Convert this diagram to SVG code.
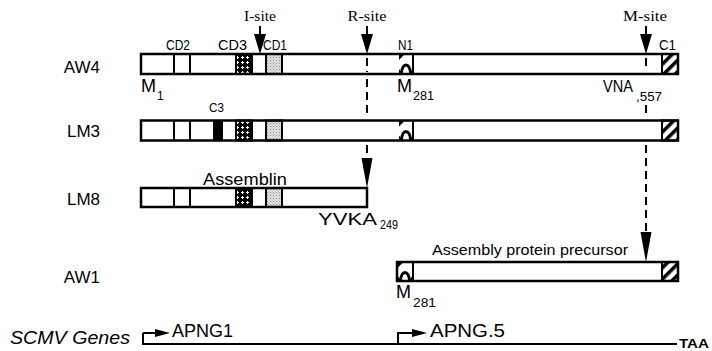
<svg xmlns="http://www.w3.org/2000/svg" width="712" height="351" viewBox="0 0 712 351">
<style>
.sans{font-family:"Liberation Sans",Arial,sans-serif;fill:#000}
.serif{font-family:"Liberation Serif","Times New Roman",serif;fill:#000}
.bar{fill:none;stroke:#000;stroke-width:2.5}
.div{stroke:#000;stroke-width:2;fill:none}
.box{stroke:#000;stroke-width:2}
.dash{stroke:#000;stroke-width:2;stroke-dasharray:8 5;fill:none}
.ln{stroke:#000;stroke-width:2;fill:none}
</style>
<defs>
<pattern id="chk" width="5" height="5" patternUnits="userSpaceOnUse">
<rect width="5" height="5" fill="#000"/>
<rect x="1" y="2" width="3" height="1" fill="#fff"/>
<rect x="2" y="1" width="1" height="3" fill="#fff"/>
</pattern>
<pattern id="stip" width="3" height="3" patternUnits="userSpaceOnUse">
<rect width="3" height="3" fill="#e2e2e2"/>
<rect x="0" y="0" width="1" height="1" fill="#888"/>
<rect x="1.5" y="1.5" width="1" height="1" fill="#aaa"/>
</pattern>
<pattern id="hatch" width="8" height="8" patternUnits="userSpaceOnUse" patternTransform="rotate(45)">
<rect width="8" height="8" fill="#fff"/>
<rect width="3.5" height="8" fill="#000"/>
</pattern>
<g id="nshape">
<rect x="0" y="0" width="14" height="20" fill="#fff"/>
<path d="M0 0 H6 L0 6 Z" fill="#000"/>
<path d="M2.5 20 C2.5 8 11.5 8 11.5 20" fill="none" stroke="#000" stroke-width="2.8"/>
<path d="M14 20 H10 L14 15 Z" fill="#000"/>
<path d="M0 20 H4 L0 15 Z" fill="#000"/>
</g>
</defs>

<g id="row-labels">
<text class="sans" x="100" y="73" font-size="17" text-anchor="end">AW4</text>
<text class="sans" x="100" y="137" font-size="17" text-anchor="end">LM3</text>
<text class="sans" x="100" y="205" font-size="17" text-anchor="end">LM8</text>
<text class="sans" x="100" y="283" font-size="17" text-anchor="end">AW1</text>
</g>

<g id="AW4">
<rect x="141" y="54" width="537" height="20" fill="#fff"/>
<line class="div" x1="174" y1="54" x2="174" y2="74"/>
<line class="div" x1="190" y1="54" x2="190" y2="74"/>
<rect class="box" x="236" y="54" width="16" height="20" fill="url(#chk)"/>
<rect class="box" x="266" y="54" width="16" height="20" fill="url(#stip)"/>
<use href="#nshape" x="399" y="54"/>
<line class="div" x1="413" y1="54" x2="413" y2="74"/>
<rect class="box" x="662" y="54" width="16" height="20" fill="url(#hatch)"/>
<rect class="bar" x="141" y="54" width="537" height="20"/>
<text class="sans" x="166" y="50" font-size="14" textLength="24" lengthAdjust="spacingAndGlyphs">CD2</text>
<text class="sans" x="218" y="50" font-size="14" textLength="29" lengthAdjust="spacingAndGlyphs">CD3</text>
<text class="sans" x="263" y="50" font-size="14" textLength="24" lengthAdjust="spacingAndGlyphs">CD1</text>
<text class="sans" x="398" y="50" font-size="14" textLength="15" lengthAdjust="spacingAndGlyphs">N1</text>
<text class="sans" x="659" y="50" font-size="14" textLength="17" lengthAdjust="spacingAndGlyphs">C1</text>
<text class="sans" x="141" y="92" font-size="18" textLength="15" lengthAdjust="spacingAndGlyphs">M</text>
<text class="sans" x="157" y="100" font-size="12">1</text>
<text class="sans" x="397" y="92" font-size="18" textLength="15" lengthAdjust="spacingAndGlyphs">M</text>
<text class="sans" x="413" y="100" font-size="12" textLength="21" lengthAdjust="spacingAndGlyphs">281</text>
<text class="sans" x="603" y="92" font-size="17" textLength="30" lengthAdjust="spacingAndGlyphs">VNA</text>
<text class="sans" x="636" y="101" font-size="12" textLength="26" lengthAdjust="spacingAndGlyphs">,557</text>
</g>

<g id="LM3">
<rect x="141" y="120.5" width="537" height="20" fill="#fff"/>
<line class="div" x1="174" y1="120.5" x2="174" y2="140.5"/>
<line class="div" x1="190" y1="120.5" x2="190" y2="140.5"/>
<rect x="213" y="120.5" width="10" height="20" fill="#000"/>
<rect class="box" x="236" y="120.5" width="16" height="20" fill="url(#chk)"/>
<rect class="box" x="266" y="120.5" width="16" height="20" fill="url(#stip)"/>
<use href="#nshape" x="399" y="120.5"/>
<line class="div" x1="413" y1="120.5" x2="413" y2="140.5"/>
<rect class="box" x="662" y="120.5" width="16" height="20" fill="url(#hatch)"/>
<rect class="bar" x="141" y="120.5" width="537" height="20"/>
<text class="sans" x="209" y="112" font-size="12" textLength="15" lengthAdjust="spacingAndGlyphs">C3</text>
</g>

<g id="LM8">
<rect x="141" y="188" width="226" height="19" fill="#fff"/>
<line class="div" x1="174" y1="188" x2="174" y2="207"/>
<line class="div" x1="190" y1="188" x2="190" y2="207"/>
<rect class="box" x="236" y="188" width="16" height="19" fill="url(#chk)"/>
<rect class="box" x="266" y="188" width="16" height="19" fill="url(#stip)"/>
<rect class="bar" x="141" y="188" width="226" height="19"/>
<text class="sans" x="203" y="185" font-size="16" textLength="84" lengthAdjust="spacingAndGlyphs">Assemblin</text>
<text class="sans" x="318" y="225" font-size="17" textLength="59" lengthAdjust="spacingAndGlyphs">YVKA</text>
<text class="sans" x="380" y="229" font-size="12" textLength="18" lengthAdjust="spacingAndGlyphs">249</text>
</g>

<g id="AW1">
<rect x="397" y="262" width="281" height="19" fill="#fff"/>
<use href="#nshape" x="398" y="261.5"/>
<line class="div" x1="413" y1="262" x2="413" y2="281"/>
<rect class="box" x="662" y="262" width="16" height="19" fill="url(#hatch)"/>
<rect class="bar" x="397" y="262" width="281" height="19"/>
<text class="sans" x="432" y="255" font-size="14" textLength="196" lengthAdjust="spacingAndGlyphs">Assembly protein precursor</text>
<text class="sans" x="396" y="298" font-size="18" textLength="15" lengthAdjust="spacingAndGlyphs">M</text>
<text class="sans" x="413" y="307" font-size="12" textLength="23" lengthAdjust="spacingAndGlyphs">281</text>
</g>

<g id="connectors">
<line class="ln" x1="260" y1="26" x2="260" y2="36"/>
<polygon points="254,34 266,34 260,54"/>
<text class="serif" x="260" y="21" font-size="14" text-anchor="middle" textLength="32" lengthAdjust="spacingAndGlyphs">I-site</text>
<line class="ln" x1="367" y1="26" x2="367" y2="36"/>
<polygon points="361,34 373,34 367,54"/>
<text class="serif" x="367" y="21" font-size="14" text-anchor="middle" textLength="39" lengthAdjust="spacingAndGlyphs">R-site</text>
<line class="ln" x1="646" y1="26" x2="646" y2="36"/>
<polygon points="640,34 652,34 646,54"/>
<text class="serif" x="645" y="21" font-size="14" text-anchor="middle" textLength="44" lengthAdjust="spacingAndGlyphs">M-site</text>
<line class="dash" x1="367" y1="58" x2="367" y2="72"/>
<line class="dash" x1="367" y1="79" x2="367" y2="117"/>
<line class="dash" x1="367" y1="145" x2="367" y2="160"/>
<polygon points="361.5,158 372.5,158 367,188"/>
<line class="dash" x1="646" y1="58" x2="646" y2="66"/>
<line class="dash" x1="646" y1="105" x2="646" y2="117"/>
<line class="dash" x1="646" y1="145" x2="646" y2="234"/>
<polygon points="640.5,232 651.5,232 646,262"/>
</g>

<g id="genes">
<text class="sans" x="10" y="344" font-size="18.5" font-style="italic" textLength="120" lengthAdjust="spacingAndGlyphs">SCMV Genes</text>
<path class="ln" d="M143 333 V344 H677"/>
<line class="ln" x1="143" y1="333" x2="156" y2="333"/>
<polygon points="155,329 170,333 155,337"/>
<text class="sans" x="172" y="337" font-size="18" textLength="61" lengthAdjust="spacingAndGlyphs">APNG1</text>
<path class="ln" d="M398 344 V333 H414"/>
<polygon points="412,329 427,333 412,337"/>
<text class="sans" x="430" y="337" font-size="18" textLength="75" lengthAdjust="spacingAndGlyphs">APNG.5</text>
<text class="sans" x="679" y="348" font-size="13" font-weight="bold" textLength="30" lengthAdjust="spacingAndGlyphs">TAA</text>
</g>
</svg>
